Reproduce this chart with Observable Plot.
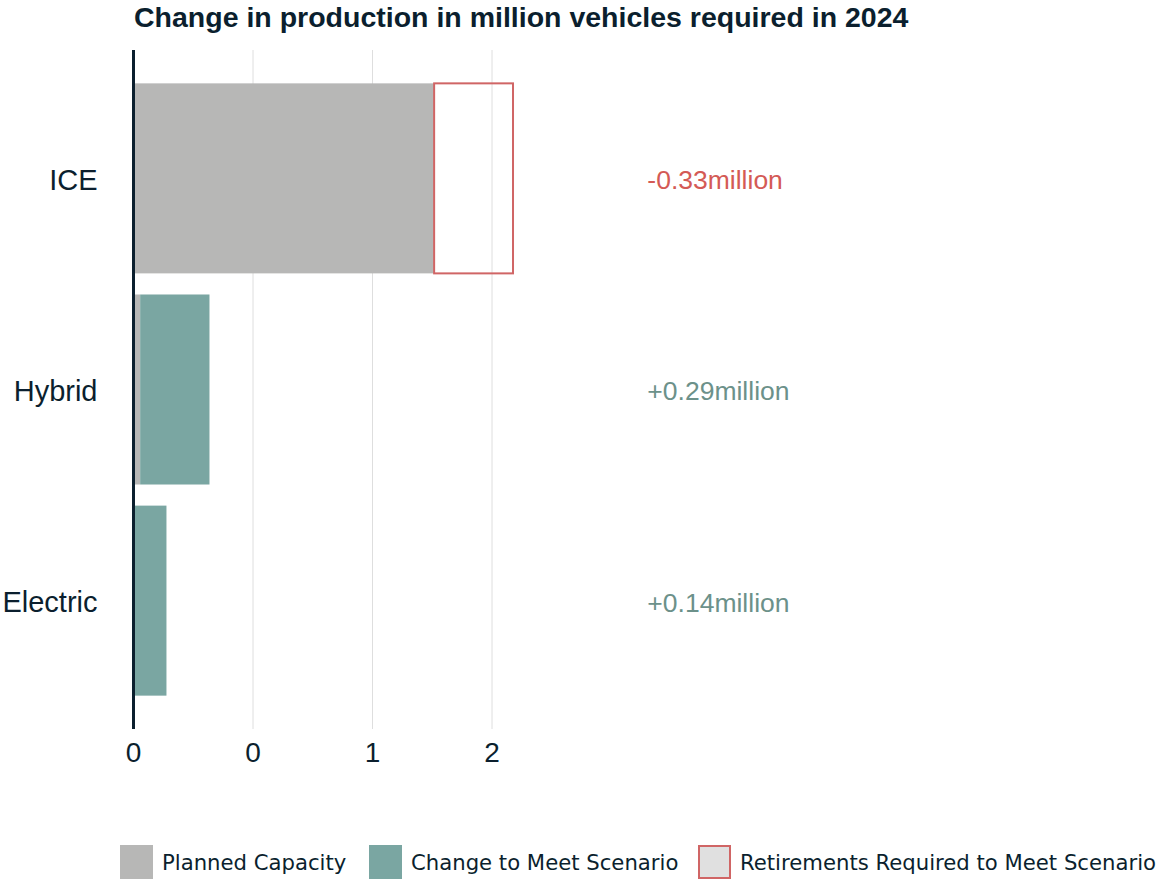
<!DOCTYPE html>
<html>
<head>
<meta charset="utf-8">
<script src="https://cdn.jsdelivr.net/npm/d3@7"></script>
<script src="https://cdn.jsdelivr.net/npm/@observablehq/plot@0.6"></script>
<style>
  body { margin: 0; background: #fff; width: 1158px; height: 880px; position: relative; overflow: hidden; }
  #title { position: absolute; left: 134px; top: 1px; font-family: "Liberation Sans", Arial, sans-serif; font-weight: bold; font-size: 28.5px; color: #0b1f2e; white-space: nowrap; }
  #chart { position: absolute; left: 0; top: 40px; }
  .lg { position: absolute; top: 845px; height: 34px; display: flex; align-items: center; font-family: "DejaVu Sans", Verdana, sans-serif; font-size: 21.2px; color: #0b1f2e; white-space: nowrap; }
  .sw { width: 33px; height: 34px; box-sizing: border-box; margin-right: 9px; }
</style>
</head>
<body>
<div id="title">Change in production in million vehicles required in 2024</div>
<div id="chart"></div>
<div class="lg" style="left:120px"><div class="sw" style="background:#b7b7b6"></div>Planned Capacity</div>
<div class="lg" style="left:369px"><div class="sw" style="background:#7aa6a2"></div>Change to Meet Scenario</div>
<div class="lg" style="left:698px"><div class="sw" style="background:#e0e0e0;border:2px solid #d06565"></div>Retirements Required to Meet Scenario</div>
<script>
const categories = ["ICE", "Hybrid", "Electric"];
const planned = [1.26, 0.03, 0];
const change = [0, 0.29, 0.14];
const retirements = [0.33, 0, 0];
const valueLabels = ["-0.33million", "+0.29million", "+0.14million"];
const xTicks = [0, 0.5, 1, 1.5];
const xTickLabels = ["0", "0", "1", "2"];
const gridTicks = [0.5, 1, 1.5];

const rows = categories.map((c, i) => ({
  cat: c,
  planned: planned[i],
  change: change[i],
  retire: retirements[i],
  label: valueLabels[i],
  neg: valueLabels[i].startsWith("-")
}));

const chart = Plot.plot({
  width: 1158,
  height: 790,
  marginLeft: 133,
  marginRight: 69,
  marginTop: 10,
  marginBottom: 101,
  x: { domain: [0, 4], ticks: xTicks, tickFormat: d => xTickLabels[xTicks.indexOf(d)], tickSize: 0, tickPadding: 14, label: null },
  y: { domain: categories, paddingInner: 0.1, paddingOuter: 0.158, round: false, tickSize: 0, tickPadding: 36, label: null },
  style: { fontFamily: "'Liberation Sans', Arial, sans-serif", fontSize: "28px", color: "#0b1f2e" },
  marks: [
    Plot.ruleX(gridTicks, { stroke: "#dedede", strokeWidth: 1 }),
    Plot.barX(rows.filter(d => d.planned > 0), { y: "cat", x1: 0, x2: "planned", fill: "#b7b7b6" }),
    Plot.barX(rows.filter(d => d.change > 0), { y: "cat", x1: "planned", x2: d => d.planned + d.change, fill: "#7aa6a2" }),
    Plot.barX(rows.filter(d => d.retire > 0), { y: "cat", x1: "planned", x2: d => d.planned + d.retire, fill: "none", stroke: "#d06565", strokeWidth: 2 }),
    Plot.text(rows, { y: "cat", x: 2.15, dy: 2, text: "label", textAnchor: "start", fontSize: 26.5, fill: d => d.neg ? "#d45a55" : "#6c918a" }),
    Plot.ruleX([0], { stroke: "#0b1f2e", strokeWidth: 3 }),
    Plot.axisX({ ticks: xTicks, tickFormat: d => xTickLabels[xTicks.indexOf(d)], tickSize: 0, tickPadding: 13, fontSize: 28, label: null }),
    Plot.axisY({ tickSize: 0, tickPadding: 36, dy: 2, fontSize: 29, label: null })
  ]
});
document.getElementById("chart").appendChild(chart);
</script>
</body>
</html>
